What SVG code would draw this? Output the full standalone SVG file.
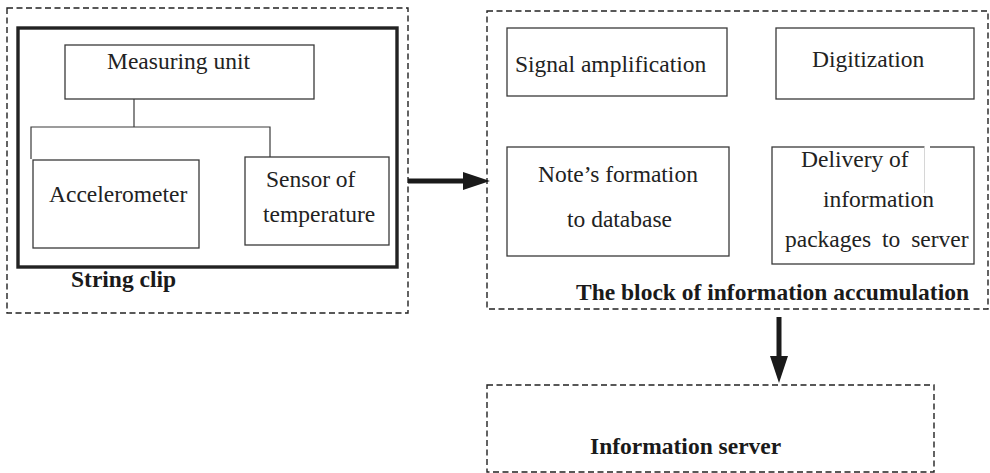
<svg xmlns="http://www.w3.org/2000/svg" width="990" height="473" viewBox="0 0 990 473">
  <defs>
    <style>
      .frame { fill: none; stroke: #222; stroke-width: 1.4; stroke-dasharray: 6 3.5; }
      .box { fill: #fff; stroke: #3a3a3a; stroke-width: 1.3; }
      .thick { fill: none; stroke: #222; stroke-width: 3.4; }
      .link { fill: none; stroke: #3a3a3a; stroke-width: 1.2; }
      .shaft { stroke: #1a1a1a; stroke-width: 5; fill: none; }
      text { font-family: 'Liberation Serif', 'Times New Roman', serif; font-size: 23.5px; }
      .t { font-weight: normal; fill: #222; }
      .b { font-weight: bold; fill: #1a1a1a; }
    </style>
    <marker id="head" markerUnits="userSpaceOnUse" markerWidth="28" markerHeight="20" refX="0" refY="9.5" orient="auto">
      <path d="M0,0.5 L27,9.5 L0,18.5 z" fill="#1a1a1a"/>
    </marker>
  </defs>

  <rect width="990" height="473" fill="#fff"/>

  <!-- String clip block -->
  <g id="string-clip">
    <rect class="frame" x="7" y="8" width="401" height="305"/>
    <rect class="thick" x="18" y="28" width="379" height="239"/>
    <text class="b" x="71" y="287">String clip</text>
  </g>
  <g id="measuring-unit">
    <rect class="box" x="65" y="45" width="249" height="54"/>
    <text class="t" x="107" y="69">Measuring unit</text>
  </g>
  <g id="accelerometer">
    <rect class="box" x="33" y="160" width="166" height="88"/>
    <text class="t" x="49" y="202">Accelerometer</text>
  </g>
  <g id="temperature-sensor">
    <rect class="box" x="245" y="157" width="144" height="88"/>
    <text class="t" x="266" y="187">Sensor of</text>
    <text class="t" x="263" y="222">temperature</text>
  </g>

  <!-- Information accumulation block -->
  <g id="accumulation-block">
    <rect class="frame" x="487" y="11" width="501" height="298"/>
    <text class="b" x="576" y="300">The block of information accumulation</text>
  </g>
  <g id="signal-amplification">
    <rect class="box" x="507" y="28" width="220" height="68"/>
    <text class="t" x="515" y="72">Signal amplification</text>
  </g>
  <g id="digitization">
    <rect class="box" x="776" y="28" width="198" height="71"/>
    <text class="t" x="812" y="67">Digitization</text>
  </g>
  <g id="note-formation">
    <rect class="box" x="507" y="147" width="222" height="109"/>
    <text class="t" x="538" y="182">Note’s formation</text>
    <text class="t" x="567" y="227">to database</text>
  </g>
  <g id="packet-delivery">
    <rect class="box" x="772" y="147" width="202" height="117"/>
    <line x1="924.5" y1="147" x2="930" y2="147" stroke="#fff" stroke-width="2"/>
    <line x1="924.5" y1="147" x2="924.5" y2="193" stroke="#ccc" stroke-width="0.8"/>
    <text class="t" x="801" y="167">Delivery of</text>
    <text class="t" x="823" y="207">information</text>
    <text class="t" x="785" y="247" word-spacing="5">packages to server</text>
  </g>

  <!-- Information server -->
  <g id="information-server">
    <rect class="frame" x="487" y="385" width="447" height="87"/>
    <text class="b" x="590" y="454">Information server</text>
  </g>

  <!-- Connectors -->
  <g id="connectors">
    <polyline class="link" points="134,99 134,127"/>
    <polyline class="link" points="31,159 31,127 270,127 270,157"/>
    <line class="shaft" x1="408" y1="181" x2="463" y2="181" marker-end="url(#head)"/>
    <line class="shaft" x1="779" y1="317" x2="779" y2="356" marker-end="url(#head)"/>
  </g>
</svg>
